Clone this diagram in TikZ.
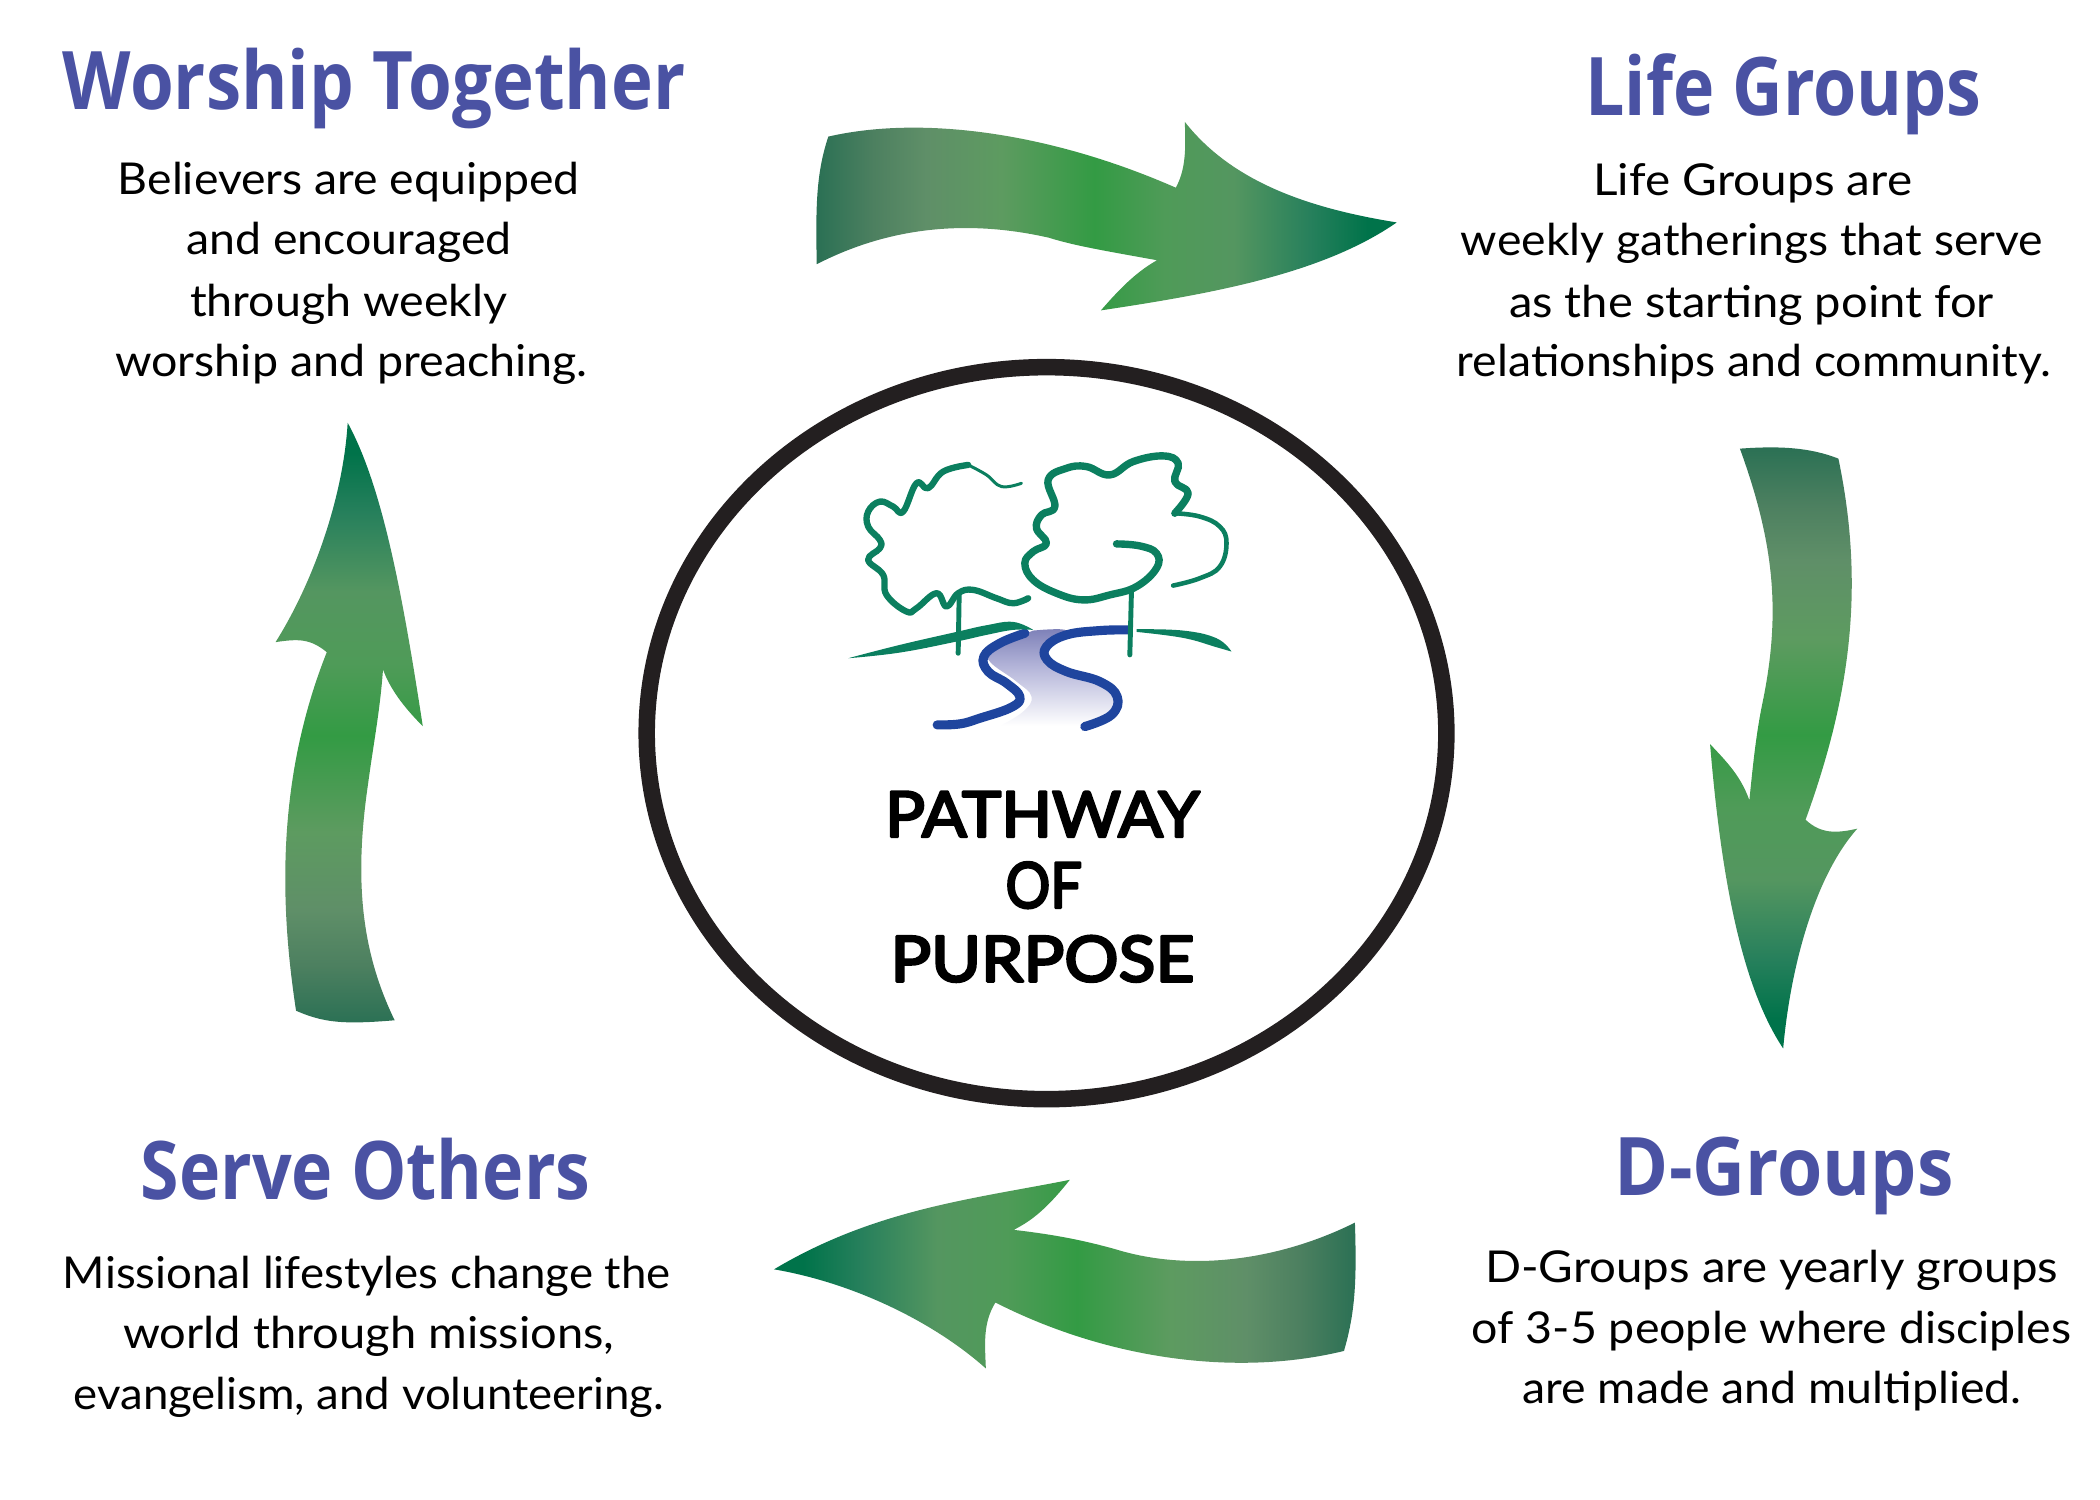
\documentclass[tikz,border=0pt]{standalone}
\usepackage{fontspec}
\usepackage{graphicx}
\setmainfont{Lato}
\newfontfamily\ttlfont{Open Sans}
\newfontfamily\handfont{Lato}[FakeBold=4]
\definecolor{ttl}{HTML}{4A52A3}
\definecolor{ringc}{HTML}{231F20}
\definecolor{treec}{HTML}{0B7F5F}
\definecolor{riverc}{HTML}{1F459E}
\definecolor{ga}{HTML}{2A7054}
\definecolor{gb}{HTML}{4D8060}
\definecolor{gc}{HTML}{5F8F68}
\definecolor{gd}{HTML}{5D9B60}
\definecolor{ge}{HTML}{339B44}
\definecolor{gf}{HTML}{4F9B58}
\definecolor{gg}{HTML}{549660}
\definecolor{gh}{HTML}{27805C}
\definecolor{gi}{HTML}{00734A}
\definecolor{rivera}{HTML}{7C7FB7}
\definecolor{riverb}{HTML}{B4B5D9}
\pgfdeclarehorizontalshading{arrowfwd}{100bp}{color(0bp)=(ga);color(25bp)=(ga);color(30bp)=(gb);color(34.5bp)=(gc);color(41bp)=(gd);color(49bp)=(ge);color(55bp)=(gf);color(61bp)=(gg);color(67.5bp)=(gh);color(72.5bp)=(gi);color(100bp)=(gi)}
\pgfdeclarehorizontalshading{arrowrev}{100bp}{color(0bp)=(gi);color(27.5bp)=(gi);color(32.5bp)=(gh);color(39bp)=(gg);color(45bp)=(gf);color(51bp)=(ge);color(59bp)=(gd);color(65.5bp)=(gc);color(70bp)=(gb);color(75bp)=(ga);color(100bp)=(ga)}
\pgfdeclareverticalshading{arrowup}{100bp}{color(0bp)=(ga);color(25bp)=(ga);color(30bp)=(gb);color(34.5bp)=(gc);color(41bp)=(gd);color(49bp)=(ge);color(55bp)=(gf);color(61bp)=(gg);color(67.5bp)=(gh);color(72.5bp)=(gi);color(100bp)=(gi)}
\pgfdeclareverticalshading{arrowdown}{100bp}{color(0bp)=(gi);color(27.5bp)=(gi);color(32.5bp)=(gh);color(39bp)=(gg);color(45bp)=(gf);color(51bp)=(ge);color(59bp)=(gd);color(65.5bp)=(gc);color(70bp)=(gb);color(75bp)=(ga);color(100bp)=(ga)}
\pgfdeclareverticalshading{riverfade}{100bp}{color(0bp)=(white);color(25bp)=(white);color(55bp)=(riverb);color(75bp)=(rivera);color(100bp)=(rivera)}
\newsavebox\fitbox
\newcommand\fitw[2]{\sbox\fitbox{#2}\pgfmathsetmacro\fitscale{#1*0.56906/\the\wd\fitbox}\scalebox{\fitscale}[1]{\usebox\fitbox}}
\newcommand\lbl[6]{\pgfmathsetmacro\cxx{(#2+#3)/2*1.339}\pgfmathsetmacro\byy{#4*1.339}\pgfmathsetmacro\www{(#3-#2)*1.339}\node[anchor=base,inner sep=0pt,outer sep=0pt] (#1) at (\cxx,\byy) {\fitw{\www}{#5 #6}};}
\newcommand\ttlf{\ttlfont\bfseries\fontsize{46}{46}\selectfont\color{ttl}}
\newcommand\bodyf{\fontsize{25}{25}\selectfont\color{black}}
\newcommand\handf{\special{pdf:code 1 j 1 J}\handfont\fontsize{36}{36}\selectfont\color{black}}
\tikzset{
  sm/.style={smooth,tension=.7},
  treeline/.style={draw=treec,line cap=round,line join=round,fill=none},
  riverline/.style={draw=riverc,line cap=round,line join=round,line width=5.2pt,fill=none},
}
\begin{document}
\begin{tikzpicture}[x=0.02cm,y=-0.02cm]
\useasboundingbox (0,0) rectangle (2100,1500);
\begin{scope}[scale=0.9948]
% ring
\draw[ringc,line width=9.4pt] (1052,737) ellipse [x radius=8.04cm,y radius=7.36cm];
% arrows
\shade[shading=arrowfwd] (832.7,137.3)
  .. controls (930,115) and (1060,135) .. (1182,188.7)
  .. controls (1192,170) and (1192,150) .. (1191,122.5)
  .. controls (1240,185) and (1320,210) .. (1404,223.6)
  .. controls (1330,275) and (1220,295) .. (1106.7,312)
  .. controls (1130,285) and (1145,272) .. (1163,261.6)
  .. controls (1110,252) and (1080,247) .. (1054.5,239)
  .. controls (980,222) and (900,225) .. (821,265.6)
  .. controls (820,210) and (820,175) .. cycle;
\shade[shading=arrowdown] (1848,461)
  .. controls (1875,590) and (1860,700) .. (1815,824)
  .. controls (1830,838) and (1845,838) .. (1867,833)
  .. controls (1825,880) and (1800,970) .. (1792.5,1054)
  .. controls (1750,990) and (1730,880) .. (1719,748)
  .. controls (1735,765) and (1750,780) .. (1758.5,804.5)
  .. controls (1762,770) and (1765,740) .. (1771,710)
  .. controls (1790,620) and (1785,550) .. (1749,451)
  .. controls (1790,448) and (1820,450) .. cycle;
\shade[shading=arrowrev] (778,1276)
  .. controls (880,1215) and (980,1205) .. (1075.4,1186)
  .. controls (1050,1218) and (1035,1228) .. (1019,1236.3)
  .. controls (1060,1241) and (1090,1247) .. (1121,1255.7)
  .. controls (1200,1280) and (1290,1265) .. (1362,1229)
  .. controls (1364,1290) and (1362,1320) .. (1351,1358)
  .. controls (1240,1385) and (1110,1365) .. (1000.6,1309.3)
  .. controls (988,1330) and (990,1350) .. (991,1375.6)
  .. controls (940,1330) and (860,1290) .. cycle;
\shade[shading=arrowup] (349.5,425)
  .. controls (385,490) and (405,600) .. (425,730)
  .. controls (405,710) and (392,692) .. (385,673)
  .. controls (382,715) and (375,750) .. (370,788)
  .. controls (355,890) and (365,960) .. (396.7,1025.6)
  .. controls (345,1030) and (325,1028) .. (297.6,1016)
  .. controls (283,920) and (275,790) .. (328.5,655.6)
  .. controls (312,642) and (300,642) .. (277,645.5)
  .. controls (315,585) and (345,500) .. cycle;
\end{scope}
% logo
\begin{scope}[shift={(16cm,-8.4cm)},x=0.0066667cm,y=-0.0066667cm]
  \shade[shading=riverfade] plot[sm] coordinates {(700,632) (800,632) (735,680) (740,725) (900,785) (955,830) (930,900) (850,918)}
    -- (600,918) -- plot[sm] coordinates {(600,918) (670,875) (695,830) (650,785) (570,725) (578,690) (700,632)} -- cycle;
  \draw[riverline] plot[sm] coordinates {(675,640) (600,670) (552,710) (565,755) (620,790) (660,830) (635,862) (540,895) (480,912) (412,915)};
  \draw[riverline] plot[sm] coordinates {(985,630) (900,632) (800,645) (740,680) (742,720) (800,755) (900,785) (952,830) (935,885) (855,920)};
  % left tree
  \draw[treeline,line width=3.6pt] plot[sm] coordinates {(505,135) (430,155) (385,205) (350,190) (310,275) (280,260) (240,245) (205,275) (205,320) (240,360) (240,385) (205,420) (250,465) (260,525) (320,575) (350,565) (410,520) (440,560) (475,520) (520,510) (590,535) (640,550) (685,535)};
  \draw[treeline,line width=1.7pt] plot[sm] coordinates {(665,190) (605,200) (560,165) (505,135)};
  % right tree
  \draw[treeline,line width=4.2pt] plot[sm] coordinates {(950,372) (1020,378) (1070,400) (1070,445) (1010,500) (930,525) (850,540) (770,520) (700,480) (675,430) (700,395) (740,370) (710,325) (725,285) (765,260) (745,180) (800,145) (860,140) (930,165) (1000,125) (1090,108) (1135,130) (1125,185) (1165,220) (1125,280)};
  \draw[treeline,line width=2.6pt] plot[sm] coordinates {(1125,280) (1200,290) (1260,320) (1280,370) (1260,440) (1200,475) (1120,497)};
  % trunks
  \draw[treeline,line width=2.8pt] (478,525) -- (475,700);
  \draw[treeline,line width=2.8pt] (995,510) -- (990,705);
  % ground
  \fill[treec] plot[sm] coordinates {(145,715) (300,675) (470,636) (560,616) (640,606) (700,630)} -- plot[sm] coordinates {(700,630) (640,630) (560,645) (470,665) (300,698) (145,715)} -- cycle;
  \fill[treec] plot[sm] coordinates {(1010,628) (1150,632) (1250,655) (1295,695)} -- plot[sm] coordinates {(1295,695) (1250,682) (1150,654) (1010,636)} -- cycle;
\end{scope}
% titles
\lbl{t1}{47}{512}{82}{\ttlf}{Worship Together}
\lbl{t2}{1184}{1480}{86}{\ttlf}{Life Groups}
\lbl{t3}{1206}{1459}{893}{\ttlf}{D-Groups}
\lbl{t4}{105}{441}{896}{\ttlf}{Serve Others}
% body
\lbl{a1}{88}{433}{145}{\bodyf}{Believers are equipped}
\lbl{a2}{139}{382}{190}{\bodyf}{and encouraged}
\lbl{a3}{142}{379}{236}{\bodyf}{through weekly}
\lbl{a4}{86}{439}{281}{\bodyf}{worship and preaching.}
\lbl{b1}{1190}{1428}{146}{\bodyf}{Life Groups are}
\lbl{b2}{1091}{1526}{191}{\bodyf}{weekly gatherings that serve}
\lbl{b3}{1127}{1489}{237}{\bodyf}{as the starting point for}
\lbl{b4}{1088}{1532}{281}{\bodyf}{relationships and community.}
\lbl{c1}{1109}{1537}{958}{\bodyf}{D-Groups are yearly groups}
\lbl{c2}{1099}{1547}{1003}{\bodyf}{of 3-5 people where disciples}
\lbl{c3}{1137}{1510}{1048}{\bodyf}{are made and multiplied.}
\lbl{d1}{47}{501}{962}{\bodyf}{Missional lifestyles change the}
\lbl{d2}{92}{459}{1007}{\bodyf}{world through missions,}
\lbl{d3}{55}{496}{1053}{\bodyf}{evangelism, and volunteering.}
% centre
\lbl{p1}{661}{896}{625}{\handf}{PATHWAY}
\lbl{p2}{751}{808}{678}{\handf}{OF}
\lbl{p3}{665}{892}{733}{\handf}{PURPOSE}
\end{tikzpicture}
\end{document}
